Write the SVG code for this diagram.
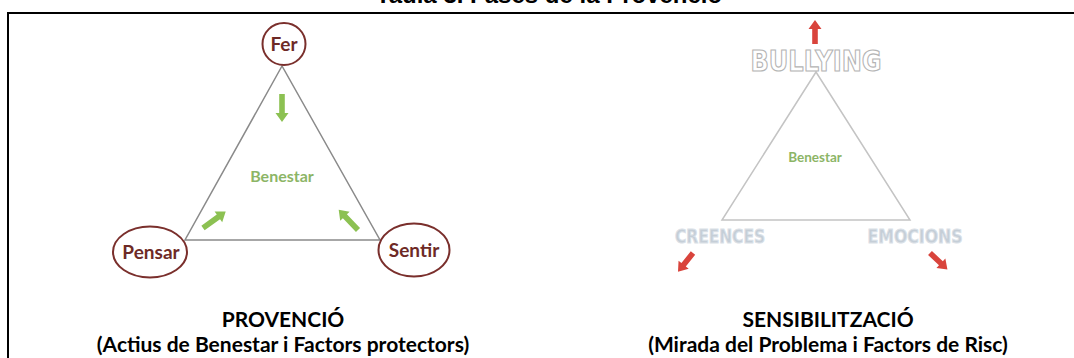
<svg xmlns="http://www.w3.org/2000/svg" xmlns:xlink="http://www.w3.org/1999/xlink" width="1074" height="358" viewBox="0 0 1074 358">
<style>
.title{font-family:"Liberation Sans",Arial,sans-serif;font-weight:bold;font-size:24px;fill:#000}
.node{fill:#fff;stroke:#7a2f2c;stroke-width:2}
.nlabel{font-family:Lato,"Open Sans",sans-serif;font-weight:bold;font-size:19px;fill:#6e2a26;text-anchor:middle}
.ben{font-family:Lato,"Open Sans",sans-serif;font-weight:bold;fill:#8cb566;text-anchor:middle}
.cap{font-family:Lato,"Open Sans",sans-serif;font-weight:bold;font-size:21px;fill:#000;text-anchor:middle}
.out{font-family:"DejaVu Sans",sans-serif;font-weight:bold;text-anchor:middle}
.ga{fill:#8cc152}
.ra{fill:#d9443c}
</style>
<defs>
<path id="arw" d="M0,-2.8 H19 V-6.5 L28,0 L19,6.5 V2.8 H0 Z"/>
<path id="rarw" d="M0,-2.8 H15 V-6.5 L24,0 L15,6.5 V2.8 H0 Z"/>
</defs>
<text class="title" x="549" y="3" text-anchor="middle">Taula 3. Fases de la Provenció</text>
<g id="frame" fill="none" stroke="#000" stroke-width="2">
<line x1="7" y1="13" x2="1074" y2="13"/>
<line x1="8" y1="12" x2="8" y2="358"/>
</g>
<g id="connectors">
<polygon points="282,66 185,240 380,240" fill="none" stroke="#8a8a8a" stroke-width="1.5"/>
<polygon points="816,72 722,220 910,220" fill="none" stroke="#c4c4c4" stroke-width="1.5"/>
<use xlink:href="#arw" class="ga" transform="translate(282,94) rotate(90)"/>
<use xlink:href="#arw" class="ga" transform="translate(203,228) rotate(-35.8)"/>
<use xlink:href="#arw" class="ga" transform="translate(358,230) rotate(-133.6)"/>
<use xlink:href="#rarw" class="ra" transform="translate(815,44) rotate(-90)"/>
<use xlink:href="#rarw" class="ra" transform="translate(693,253) rotate(128.7)"/>
<use xlink:href="#rarw" class="ra" transform="translate(930,253) rotate(43.4)"/>
</g>
<g id="node-fer">
<ellipse class="node" cx="284" cy="44" rx="21.5" ry="21"/>
<text class="nlabel" x="284" y="51">Fer</text>
</g>
<g id="node-pensar">
<ellipse class="node" cx="150" cy="252" rx="37" ry="25.5"/>
<text class="nlabel" x="151" y="259">Pensar</text>
</g>
<g id="node-sentir">
<ellipse class="node" cx="414" cy="250" rx="35.5" ry="26.5"/>
<text class="nlabel" x="414" y="257">Sentir</text>
</g>
<g id="benestar-left">
<text class="ben" x="282" y="182" font-size="16" fill="#93b86f">Benestar</text>
</g>
<g id="node-bullying">
<text class="out" x="816" y="71" font-size="28" textLength="131" lengthAdjust="spacingAndGlyphs" fill="#fff" stroke="#b4b4b4" stroke-width="1.2">BULLYING</text>
</g>
<g id="benestar-right">
<text class="ben" x="815" y="162" font-size="13.5" fill="#8aae6a">Benestar</text>
</g>
<g id="node-creences">
<text class="out" x="720" y="243" font-size="19" textLength="90" lengthAdjust="spacingAndGlyphs" fill="#c5ced7" stroke="#dbe1e7" stroke-width="1">CREENCES</text>
</g>
<g id="node-emocions">
<text class="out" x="915" y="243" font-size="19" textLength="95" lengthAdjust="spacingAndGlyphs" fill="#c5ced7" stroke="#dbe1e7" stroke-width="1">EMOCIONS</text>
</g>
<g id="caption-left">
<text class="cap" x="283" y="327">PROVENCIÓ</text>
<text class="cap" x="283" y="352">(Actius de Benestar i Factors protectors)</text>
</g>
<g id="caption-right">
<text class="cap" x="828" y="327">SENSIBILITZACIÓ</text>
<text class="cap" x="828" y="352">(Mirada del Problema i Factors de Risc)</text>
</g>
</svg>
